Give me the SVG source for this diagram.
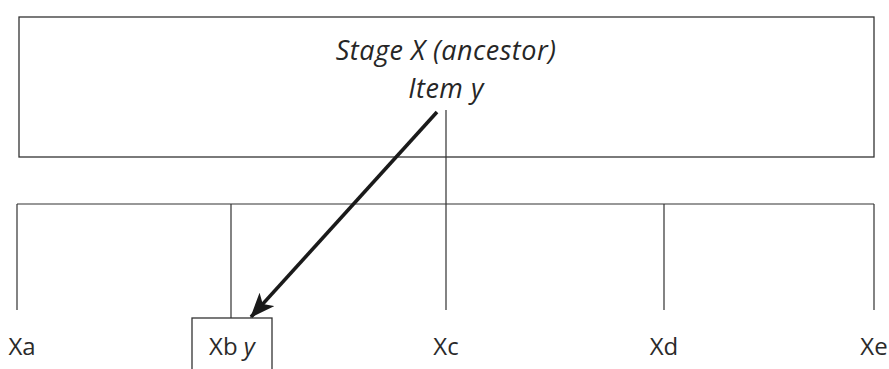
<svg xmlns="http://www.w3.org/2000/svg" width="889" height="369" viewBox="0 0 889 369">
  <style>
    .frame { fill: #fff; stroke: #333; stroke-width: 1.3; }
    .tree { fill: none; stroke: #333; stroke-width: 1.2; }
    .head { font-family: "Open Sans", "Liberation Sans", sans-serif; font-style: italic; font-weight: 400; font-size: 27px; letter-spacing: 0.5px; fill: #262626; text-anchor: middle; }
    .lbl { font-family: "Open Sans", "Liberation Sans", sans-serif; font-weight: 400; font-size: 24px; fill: #2a2a2a; text-anchor: middle; }
    .arrow { fill: none; stroke: #1a1a1a; stroke-width: 3.6; }
  </style>
  <defs>
    <marker id="ah" viewBox="0 0 20 16" refX="19" refY="8" markerWidth="25" markerHeight="20" markerUnits="userSpaceOnUse" orient="auto">
      <path d="M0,0 L20,8 L0,16 L5,8 Z" fill="#1a1a1a"/>
    </marker>
  </defs>
  <rect width="889" height="369" fill="#fff"/>

  <g id="ancestor">
    <rect class="frame" x="19" y="17" width="855" height="140"/>
    <text class="head" x="446" y="60">Stage X (ancestor)</text>
    <text class="head" x="446" y="98">Item y</text>
  </g>

  <g id="connectors">
    <path class="tree" d="M446,110 V310 M17,204 H874 M17,204 V310 M231,204 V318 M664,204 V310 M874,204 V310"/>
    <line class="arrow" x1="437" y1="112" x2="251" y2="317" marker-end="url(#ah)"/>
  </g>

  <g id="Xa"><text class="lbl" x="22" y="355">Xa</text></g>
  <g id="Xb">
    <rect class="frame" x="192" y="318" width="80" height="60"/>
    <text class="lbl" x="232" y="355">Xb <tspan font-style="italic">y</tspan></text>
  </g>
  <g id="Xc"><text class="lbl" x="446" y="355">Xc</text></g>
  <g id="Xd"><text class="lbl" x="664" y="355">Xd</text></g>
  <g id="Xe"><text class="lbl" x="874" y="355">Xe</text></g>
</svg>
